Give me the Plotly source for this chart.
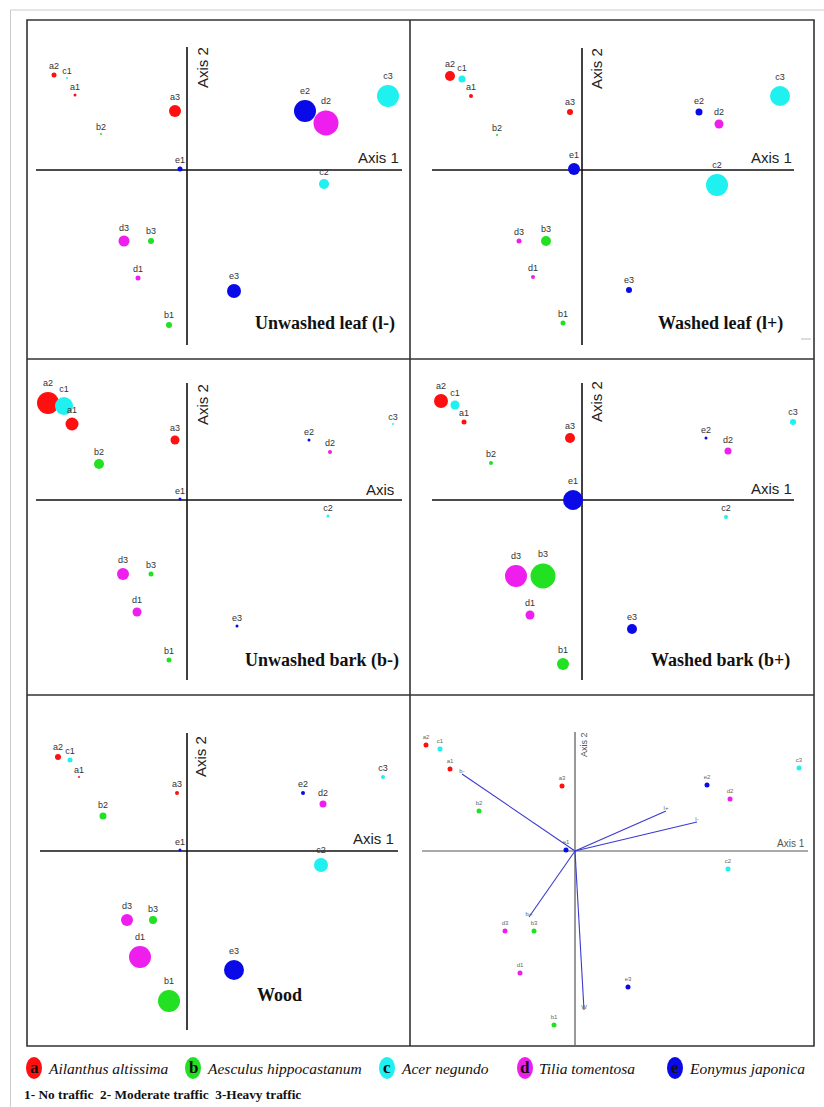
import plotly.graph_objects as go

# ---------------- data (scores) ----------------
labels = ["a1", "a2", "a3", "b1", "b2", "b3", "c1", "c2", "c3",
          "d1", "d2", "d3", "e1", "e2", "e3"]

# Panel 1: Unwashed leaf (l-)
p1_x = [-11.2, -13.3, -1.2, -1.8, -8.6, -3.6, -12.0, 13.7, 20.1, -4.9, 13.9, -6.3, -0.7, 11.8, 4.7]
p1_y = [7.5, 9.5, 5.9, -15.5, 3.6, -7.1, 9.2, -1.4, 7.4, -10.8, 4.7, -7.1, 0.1, 5.9, -12.1]
p1_s = [3, 5, 12, 6, 2, 6, 2, 10, 22, 5, 25, 11, 5, 22, 14]

# Panel 2: Washed leaf (l+)
p2_x = [-11.1, -13.2, -1.2, -1.9, -8.5, -3.6, -12.0, 13.5, 19.8, -4.9, 13.7, -6.3, -0.8, 11.7, 4.7]
p2_y = [7.4, 9.4, 5.8, -15.3, 3.5, -7.1, 9.1, -1.5, 7.4, -10.7, 4.6, -7.1, 0.1, 5.8, -12.0]
p2_s = [4, 10, 6, 5, 2, 10, 7, 22, 20, 4, 9, 5, 12, 7, 6]

# Panel 3: Unwashed bark (b-)
p3_x = [-11.5, -13.9, -1.2, -1.8, -8.8, -3.6, -12.3, 14.1, 20.6, -5.0, 14.3, -6.4, -0.7, 12.2, 5.0]
p3_y = [7.6, 9.7, 6.0, -16.0, 3.6, -7.4, 9.4, -1.6, 7.6, -11.2, 4.8, -7.4, 0.1, 6.0, -12.6]
p3_s = [13, 22, 9, 5, 10, 5, 18, 3, 2, 9, 4, 12, 3, 3, 3]

# Panel 4: Washed bark (b+)
p4_x = [-11.8, -14.1, -1.2, -1.9, -9.1, -3.9, -12.7, 14.4, 21.1, -5.2, 14.6, -6.6, -0.9, 12.4, 5.0]
p4_y = [7.8, 9.9, 6.2, -16.4, 3.7, -7.6, 9.5, -1.7, 7.8, -11.5, 4.9, -7.6, 0.0, 6.2, -12.9]
p4_s = [5, 14, 10, 12, 4, 25, 9, 4, 6, 9, 7, 22, 20, 3, 10]

# Panel 5: Wood
p5_x = [-10.8, -12.9, -1.0, -1.8, -8.4, -3.4, -11.7, 13.4, 19.6, -4.7, 13.6, -6.0, -0.7, 11.6, 4.7]
p5_y = [7.4, 9.4, 5.8, -15.0, 3.5, -6.9, 9.1, -1.4, 7.4, -10.6, 4.7, -6.9, 0.1, 5.8, -11.9]
p5_s = [2, 6, 4, 22, 7, 8, 5, 14, 4, 22, 7, 12, 3, 4, 20]

# Panel 6: biplot
p6_x = [-12.5, -14.9, -1.3, -2.1, -9.6, -4.1, -13.5, 15.3, 22.4, -5.5, 15.5, -7.0, -0.9, 13.2, 5.3]
p6_y = [8.2, 10.6, 6.5, -17.4, 4.0, -8.0, 10.2, -1.8, 8.3, -12.2, 5.2, -8.0, 0.1, 6.6, -13.6]
p6_s = [5] * 15

vec_names = ["b-", "l+", "l-", "b+", "W"]
vec_x = [-11.3, 9.1, 12.2, -4.6, 0.9]
vec_y = [7.7, 4.0, 2.9, -6.6, -15.9]

species_letters = ["a", "b", "c", "d", "e"]
species_names = ["Ailanthus altissima", "Aesculus hippocastanum", "Acer negundo",
                 "Tilia tomentosa", "Eonymus japonica"]
species_colors = ["#ff1010", "#22e022", "#1ff0f0", "#ee1eee", "#0a0ae8"]

traffic_note = "1- No traffic  2- Moderate traffic  3-Heavy traffic"

# ---------------- layout helpers ----------------
W, H = 824, 1107


def fx(x):
    return x / W


def fy(y):
    return 1 - y / H


color_of = {l: c for l, c in zip(species_letters, species_colors)}
pt_colors = [color_of[l[0]] for l in labels]

panels = [
    dict(x=p1_x, y=p1_y, s=p1_s, box=(27, 20, 410, 359), org=(187, 170),
         hline=(36, 402), vline=(47, 345), title="Unwashed leaf (l-)", tpos=(325, 323),
         ax1="Axis 1", ax1pos=(401, 157), ax2pos=(203, 68)),
    dict(x=p2_x, y=p2_y, s=p2_s, box=(410, 20, 814, 359), org=(582, 170),
         hline=(432, 794), vline=(48, 345), title="Washed leaf (l+)", tpos=(720, 323),
         ax1="Axis 1", ax1pos=(794, 157), ax2pos=(596, 69)),
    dict(x=p3_x, y=p3_y, s=p3_s, box=(27, 359, 410, 695), org=(187, 500),
         hline=(36, 402), vline=(383, 680), title="Unwashed bark (b-)", tpos=(322, 660),
         ax1="Axis", ax1pos=(396, 489), ax2pos=(202, 405)),
    dict(x=p4_x, y=p4_y, s=p4_s, box=(410, 359, 814, 695), org=(582, 500),
         hline=(432, 794), vline=(383, 680), title="Washed bark (b+)", tpos=(720, 660),
         ax1="Axis 1", ax1pos=(794, 488), ax2pos=(596, 402)),
    dict(x=p5_x, y=p5_y, s=p5_s, box=(27, 695, 410, 1046), org=(187, 851),
         hline=(40, 398), vline=(733, 1030), title="Wood", tpos=(279, 995),
         ax1="Axis 1", ax1pos=(396, 838), ax2pos=(200, 757)),
    dict(x=p6_x, y=p6_y, s=p6_s, box=(410, 695, 814, 1046), org=(575, 851),
         hline=(422, 808), vline=(732, 1045), title="", tpos=None,
         ax1="Axis 1", ax1pos=(807, 843), ax2pos=(584, 745)),
]

fig = go.Figure()
layout = dict(width=W, height=H, margin=dict(l=0, r=0, t=0, b=0),
              paper_bgcolor="white", plot_bgcolor="rgba(0,0,0,0)", showlegend=False)
shapes = []
annotations = []

for i, p in enumerate(panels, start=1):
    xa = "xaxis" if i == 1 else f"xaxis{i}"
    ya = "yaxis" if i == 1 else f"yaxis{i}"
    xr = "x" if i == 1 else f"x{i}"
    yr = "y" if i == 1 else f"y{i}"
    l, t, r, b = p["box"]
    ox, oy = p["org"]
    layout[xa] = dict(domain=[fx(l), fx(r)], range=[(l - ox) / 10, (r - ox) / 10],
                      visible=False, anchor=yr, fixedrange=True)
    layout[ya] = dict(domain=[fy(b), fy(t)], range=[(oy - b) / 10, (oy - t) / 10],
                      visible=False, anchor=xr, fixedrange=True)
    last = i == 6
    axis_col = "#555555" if last else "#111111"
    axis_w = 1.2 if last else 1.6
    # axis lines through the origin
    shapes.append(dict(type="line", xref=xr, yref=yr, x0=(p["hline"][0] - ox) / 10,
                       x1=(p["hline"][1] - ox) / 10, y0=0, y1=0,
                       line=dict(color=axis_col, width=axis_w), layer="below"))
    shapes.append(dict(type="line", xref=xr, yref=yr, x0=0, x1=0,
                       y0=(oy - p["vline"][0]) / 10, y1=(oy - p["vline"][1]) / 10,
                       line=dict(color=axis_col, width=axis_w), layer="below"))
    if last:
        for vx, vy, vn in zip(vec_x, vec_y, vec_names):
            fig.add_trace(go.Scatter(x=[0, vx], y=[0, vy], mode="lines", xaxis=xr, yaxis=yr,
                                     line=dict(color="#3a3ad0", width=1.1), hoverinfo="skip"))
            fig.add_trace(go.Scatter(x=[vx], y=[vy], mode="text", text=[vn], xaxis=xr, yaxis=yr,
                                     textposition="top center",
                                     textfont=dict(size=6, color="#666666", family="Arial")))
    fig.add_trace(go.Scatter(
        x=p["x"], y=p["y"], mode="markers+text", text=labels, xaxis=xr, yaxis=yr,
        textposition="top center",
        textfont=dict(size=6 if last else 9, color="#666666" if last else "#333333",
                      family="Arial"),
        marker=dict(size=p["s"], color=pt_colors, line=dict(width=0), opacity=1),
        cliponaxis=False))
    # axis titles
    a1x, a1y = p["ax1pos"]
    annotations.append(dict(text=p["ax1"], x=fx(a1x), y=fy(a1y), xref="paper", yref="paper",
                            xanchor="right", yanchor="middle", showarrow=False,
                            font=dict(size=10 if last else 15,
                                      color="#555555" if last else "#222222",
                                      family="Arial")))
    a2x, a2y = p["ax2pos"]
    annotations.append(dict(text="Axis 2", x=fx(a2x), y=fy(a2y), xref="paper", yref="paper",
                            xanchor="center", yanchor="middle", textangle=-90, showarrow=False,
                            font=dict(size=9 if last else 15,
                                      color="#555555" if last else "#222222",
                                      family="Arial")))
    if p["title"]:
        tx, ty = p["tpos"]
        annotations.append(dict(text="<b>" + p["title"] + "</b>", x=fx(tx), y=fy(ty),
                                xref="paper", yref="paper", xanchor="center", yanchor="middle",
                                showarrow=False,
                                font=dict(size=18, color="#111111", family="Liberation Serif")))

# panel frame
frame = dict(color="#333333", width=1.6)
shapes += [
    dict(type="rect", xref="paper", yref="paper", x0=fx(27), x1=fx(814), y0=fy(1046), y1=fy(20),
         line=frame),
    dict(type="line", xref="paper", yref="paper", x0=fx(410), x1=fx(410), y0=fy(1046), y1=fy(20),
         line=frame),
    dict(type="line", xref="paper", yref="paper", x0=fx(27), x1=fx(814), y0=fy(359), y1=fy(359),
         line=frame),
    dict(type="line", xref="paper", yref="paper", x0=fx(27), x1=fx(814), y0=fy(695), y1=fy(695),
         line=frame),
    # light outer frame
    dict(type="line", xref="paper", yref="paper", x0=fx(10.5), x1=fx(10.5), y0=0, y1=fy(10),
         line=dict(color="#cccccc", width=1)),
    dict(type="line", xref="paper", yref="paper", x0=fx(10.5), x1=1, y0=fy(10), y1=fy(10),
         line=dict(color="#cccccc", width=1)),
    dict(type="line", xref="paper", yref="paper", x0=fx(801), x1=fx(811), y0=fy(339), y1=fy(339),
         line=dict(color="#bbbbbb", width=1)),
]

# species legend
leg_cx = [34, 193, 387, 525, 675]
for cx, letter, name, col in zip(leg_cx, species_letters, species_names, species_colors):
    shapes.append(dict(type="circle", xref="paper", yref="paper", x0=fx(cx - 8), x1=fx(cx + 8),
                       y0=fy(1079), y1=fy(1057), fillcolor=col, line=dict(width=0)))
    annotations.append(dict(text="<b>" + letter + "</b>", x=fx(cx), y=fy(1067), xref="paper",
                            yref="paper", xanchor="center", yanchor="middle", showarrow=False,
                            font=dict(size=17, color="#111111", family="Liberation Serif")))
    annotations.append(dict(text="<i>" + name + "</i>", x=fx(cx + 12), y=fy(1068), xref="paper",
                            yref="paper", xanchor="left", yanchor="middle", showarrow=False,
                            font=dict(size=15.5, color="#111111", family="Liberation Serif")))

annotations.append(dict(text="<b>" + traffic_note + "</b>", x=fx(22), y=fy(1094), xref="paper",
                        yref="paper", xanchor="left", yanchor="middle", showarrow=False,
                        font=dict(size=13.3, color="#111111", family="Liberation Serif")))

layout["shapes"] = shapes
layout["annotations"] = annotations
fig.update_layout(**layout)
fig.write_html("out.html", config={"displayModeBar": False},
               post_script="document.body.style.margin='0';document.body.style.overflow='hidden';")
